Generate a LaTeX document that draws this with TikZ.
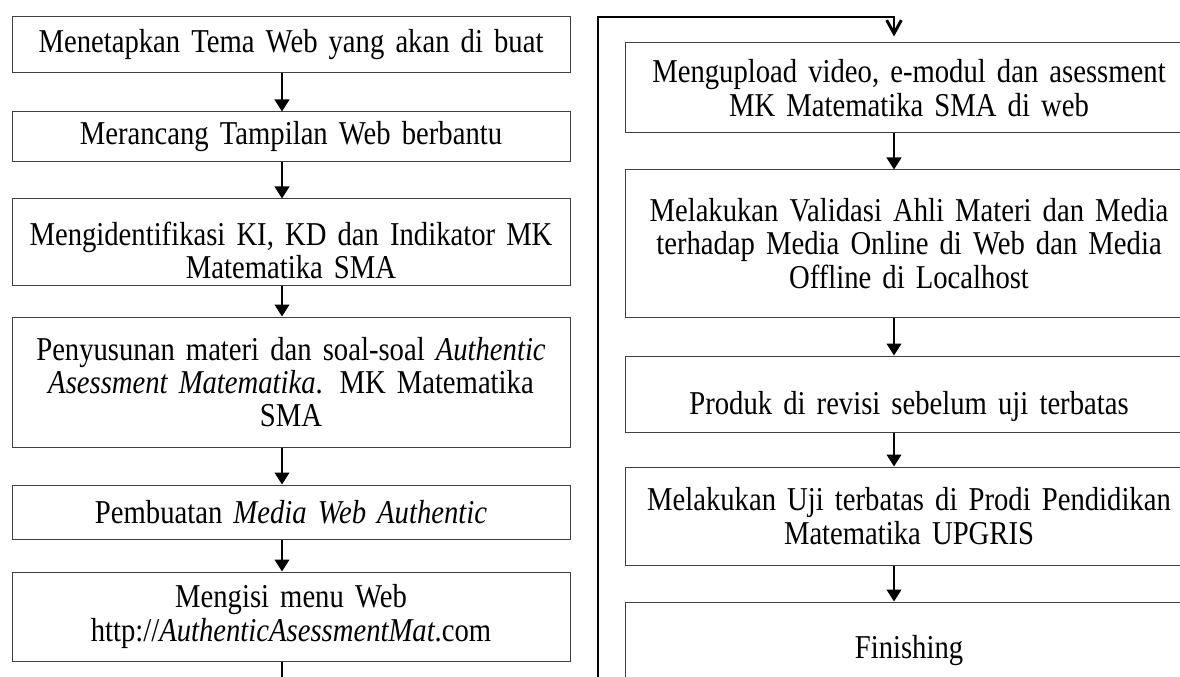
\documentclass[tikz,border=0pt]{standalone}
\usepackage{fontspec}
\setmainfont{Liberation Serif}[FakeStretch=0.86]
\usetikzlibrary{arrows.meta}

\newcommand\boxfont{\fontsize{25}{25}\selectfont\spaceskip=4.8pt plus 1pt minus 1pt\relax}

\begin{document}
\begin{tikzpicture}[x=0.75pt, y=-0.75pt,
                    flow box/.style={rectangle,draw=black!75,line width=0.75pt,align=center,
                                     inner xsep=0pt,inner ysep=2pt,font=\boxfont},
                    left col/.style={flow box,text width=418.5pt,minimum width=418.5pt},
                    right col/.style={flow box,text width=426pt,minimum width=426pt},
                    flow arrow/.style={-{Triangle[length=9pt,width=11pt]},line width=1.5pt},
                    back line/.style={-{Straight Barb[length=10pt,width=11pt]},line width=2.2pt}]

  \useasboundingbox (0,0) rectangle (1180,677);
  \clip (0,0) rectangle (1180,677);

  % left column
  \node[left col, minimum height=42pt]    (l1) at (291,45)    {Menetapkan Tema Web yang akan di buat};
  \node[left col, minimum height=37.5pt]  (l2) at (291,137)   {Merancang Tampilan Web berbantu};
  \node[left col, minimum height=64.5pt]  (l3) at (291,242)   {\rule{0pt}{30pt}Mengidentifikasi KI, KD dan Indikator MK\\ Matematika SMA};
  \node[left col, minimum height=97.5pt]  (l4) at (291,382)   {Penyusunan materi dan soal-soal \textit{Authentic}\\ \textit{Asessment Matematika}. MK Matematika\\ SMA};
  \node[left col, minimum height=40.5pt]  (l5) at (291,512)   {Pembuatan \textit{Media Web Authentic}};
  \node[left col, minimum height=66.75pt] (l6) at (291,616.5) {Mengisi menu Web\\ http://\textit{AuthenticAsessmentMat}.com};

  % right column
  \node[right col, minimum height=67.5pt]  (r1) at (909,88)    {Mengupload video, e-modul dan asessment\\ MK Matematika SMA di web};
  \node[right col, minimum height=110.25pt] (r2) at (909,243.5) {Melakukan Validasi Ahli Materi dan Media\\ terhadap Media Online di Web dan Media\\ Offline di Localhost};
  \node[right col, minimum height=57pt, text height=36pt, text depth=5.5pt] (r3) at (909,394) {Produk di revisi sebelum uji terbatas};
  \node[right col, minimum height=73.5pt]  (r4) at (909,516)   {Melakukan Uji terbatas di Prodi Pendidikan\\ Matematika UPGRIS};
  \node[right col, minimum height=73.5pt]  (r5) at (909,651)   {Finishing};

  \foreach \a/\b in {l1/l2,l2/l3,l3/l4,l4/l5,l5/l6}
    \draw[flow arrow] ([xshift=-6.75pt]\a.south) -- ([xshift=-6.75pt]\b.north);

  \foreach \a/\b in {r1/r2,r2/r3,r3/r4,r4/r5}
    \draw[flow arrow] ([xshift=-11.25pt]\a.south) -- ([xshift=-11.25pt]\b.north);

  % from the last left box round to the top of the right column
  \coordinate (bend low) at (598,720);
  \coordinate (bend top) at (598,17);
  \draw[back line, shorten >=4.5pt] ([xshift=-6.75pt]l6.south) |- (bend low) -- (bend top)
        -| ([xshift=-11.25pt]r1.north);

\end{tikzpicture}
\end{document}
